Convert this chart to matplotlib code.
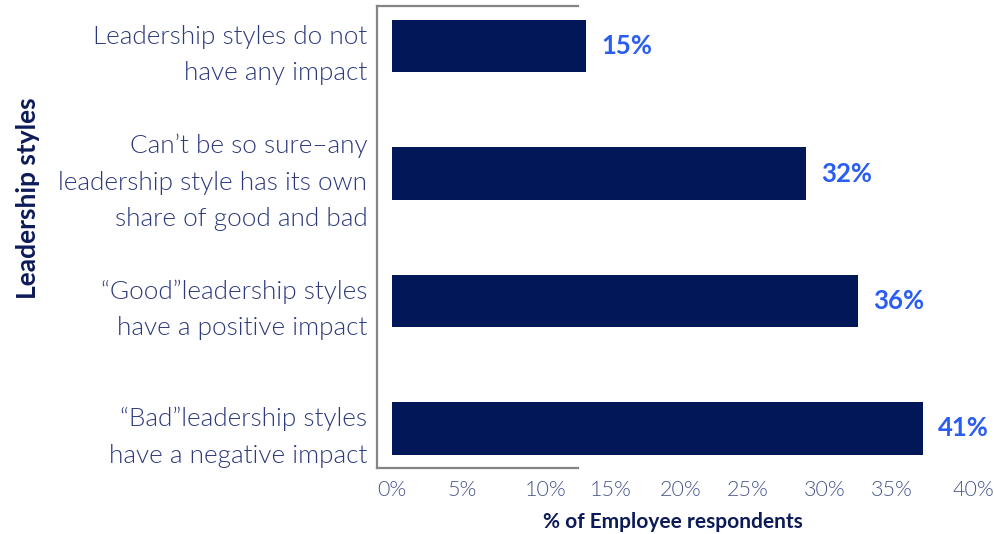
import matplotlib
matplotlib.use("Agg")
import matplotlib.pyplot as plt

# survey answers, top to bottom
categories = [
    "Leadership styles do not\nhave any impact",
    "Can\u2019t be so sure\u2013any\nleadership style has its own\nshare of good and bad",
    "\u201cGood\u201dleadership styles\nhave a positive impact",
    "\u201cBad\u201dleadership styles\nhave a negative impact",
]
shares = [15, 32, 36, 41]
tick_labels = ["0%", "5%", "10%", "15%", "20%", "25%", "30%", "35%", "40%"]

BAR = "#011757"
VALUE = "#2a5df2"
LABEL = "#2c3a7c"
TICK = "#47558a"
TITLE = "#0c1a58"
SPINE = "#858585"

plt.rcParams["font.family"] = ["Lato", "DejaVu Sans"]

fig = plt.figure(figsize=(9.95, 5.34), dpi=100)
W, H = 995, 534
ax = fig.add_axes([377 / W, (H - 468) / H, (985 - 377) / W, (468 - 6) / H])

ypos = range(len(categories))
ax.barh(ypos, shares, height=0.41, color=BAR)
for y, v in zip(ypos, shares):
    ax.text(v + 1.15, y, f"{v}%", va="center", ha="left",
            fontsize=18.5, fontweight="bold", color=VALUE)

ax.set_xlim(-1.16, 45.8)
ax.set_ylim(3.31, -0.314)

ax.set_yticks(list(ypos), categories, fontsize=18.8, fontweight=300,
              color=LABEL, linespacing=1.66)
# spread-out percentage scale under the bars
tick_at = [0, 5.45, 11.85, 16.9, 22.3, 27.5, 33.4, 38.6, 44.9]
ax.set_xticks(tick_at, tick_labels, fontsize=15.5, fontweight=300, color=TICK)
ax.tick_params(axis="both", length=0)
ax.tick_params(axis="y", pad=7)
ax.tick_params(axis="x", pad=9)

ax.spines["right"].set_visible(False)
for side in ("left", "top", "bottom"):
    ax.spines[side].set_color(SPINE)
    ax.spines[side].set_linewidth(1.6)
ax.spines["top"].set_bounds(-1.16, 14.4)
ax.spines["bottom"].set_bounds(-1.16, 14.4)

fig.text(673 / W, 1 - 522 / H, "% of Employee respondents", ha="center", va="center",
         fontsize=15, fontweight="bold", color=TITLE)
fig.text(28 / W, 1 - 198 / H, "Leadership styles", ha="center", va="center",
         rotation=90, fontsize=19, fontweight="bold", color=TITLE)

fig.savefig("out.png", dpi=100)
